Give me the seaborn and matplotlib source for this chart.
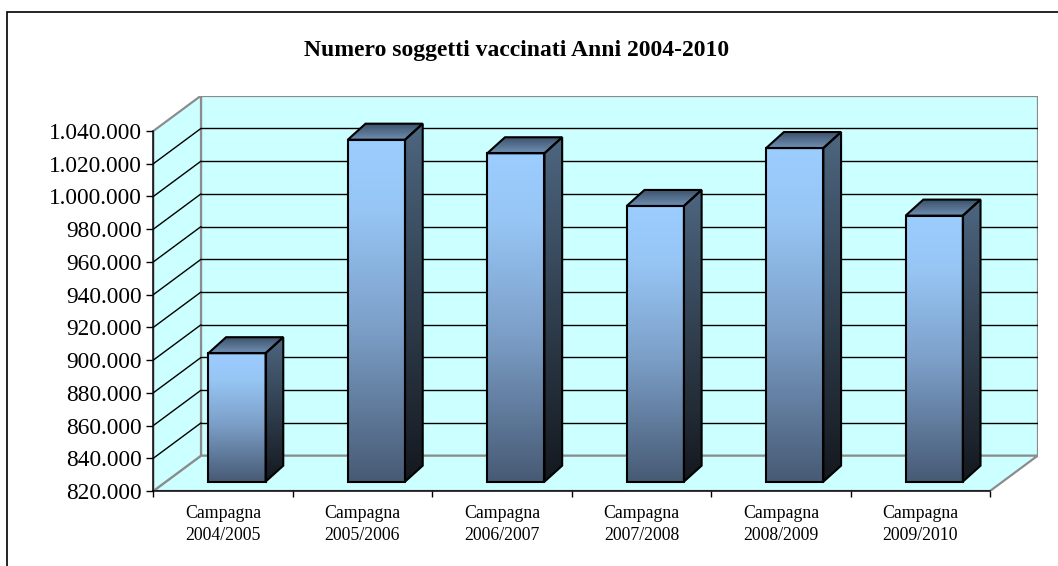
import numpy as np
import pandas as pd
import matplotlib
matplotlib.use("Agg")
import matplotlib.pyplot as plt
from matplotlib.patches import Polygon, Rectangle
from matplotlib.colors import LinearSegmentedColormap
from matplotlib.ticker import FuncFormatter, NullFormatter
import seaborn as sns

# ---- data -------------------------------------------------------------
campaigns = ["Campagna\n2004/2005", "Campagna\n2005/2006", "Campagna\n2006/2007",
             "Campagna\n2007/2008", "Campagna\n2008/2009", "Campagna\n2009/2010"]
vaccinated = [898500, 1029000, 1020700, 988500, 1023900, 982600]
title = "Numero soggetti vaccinati Anni 2004-2010"
y_min, y_max, y_step = 820000, 1040000, 20000

# ---- 3D box geometry (data units) ----------------------------------------
DEPTH_X, DEPTH_Y = 0.342, 21600          # depth of walls / floor
BAR_FRONT_X, BAR_FRONT_Y = 0.10, 5700    # front face of the columns inside the box
BAR_DEPTH_X, BAR_DEPTH_Y = 0.127, 9800   # thickness of the columns
BAR_WIDTH = 0.41

WALL = "#ccffff"
WALL_EDGE = "#8c8c8c"

front_cmap = LinearSegmentedColormap.from_list(
    "front", [(0.0, "#475a74"), (0.45, "#7c9fc8"), (0.8, "#97c6f5"), (1.0, "#9bcdff")])
side_cmap = LinearSegmentedColormap.from_list("side", ["#14181e", "#4d6680"])
top_cmap = LinearSegmentedColormap.from_list("top", ["#6f90b4", "#3a4e66"])
grad = np.linspace(0, 1, 256).reshape(-1, 1)

W, H, DPI = 1058, 566, 100
sns.set_style("white")
plt.rcParams["font.family"] = ["Liberation Serif", "DejaVu Serif"]

fig = plt.figure(figsize=(W / DPI, H / DPI), dpi=DPI)
fig.patch.set_facecolor("white")
left_px, right_px, bottom_px, top_px = 153.3, 1037.7, 491.0, 95.7
ax = fig.add_axes([left_px / W, 1 - bottom_px / H,
                   (right_px - left_px) / W, (bottom_px - top_px) / H])
ax.set_facecolor("none")

n = len(campaigns)
positions = np.arange(n)
df = pd.DataFrame({"pos": positions, "vaccinati": vaccinated})

sns.barplot(data=df, x="pos", y="vaccinati", width=BAR_WIDTH, color="#7c9fc8",
            edgecolor="black", linewidth=1.5, ax=ax, zorder=6)
bars = list(ax.patches)

x_lo, x_hi = -0.5, n - 0.5

# walls and floor
ax.add_patch(Rectangle((x_lo + DEPTH_X, y_min + DEPTH_Y), n, y_max - y_min,
                       facecolor=WALL, edgecolor=WALL_EDGE, lw=1.6, zorder=1))
ax.add_patch(Polygon([(x_lo, y_min), (x_lo, y_max), (x_lo + DEPTH_X, y_max + DEPTH_Y),
                      (x_lo + DEPTH_X, y_min + DEPTH_Y)],
                     facecolor=WALL, edgecolor=WALL_EDGE, lw=1.6, zorder=1.2))
ax.add_patch(Polygon([(x_lo, y_min), (x_hi, y_min), (x_hi + DEPTH_X, y_min + DEPTH_Y),
                      (x_lo + DEPTH_X, y_min + DEPTH_Y)],
                     facecolor=WALL, edgecolor=WALL_EDGE, lw=1.6, zorder=1.1))

# gridlines on back wall and side wall
for v in range(y_min + y_step, y_max, y_step):
    ax.plot([x_lo + DEPTH_X, x_hi + DEPTH_X], [v + DEPTH_Y] * 2, color="black", lw=1, zorder=2)
    ax.plot([x_lo, x_lo + DEPTH_X], [v, v + DEPTH_Y], color="black", lw=1, zorder=2)

# columns
for bar, val in zip(bars, vaccinated):
    x0 = bar.get_x() + BAR_FRONT_X
    w = bar.get_width()
    x1 = x0 + w
    base = y_min + BAR_FRONT_Y
    top = val + BAR_FRONT_Y
    bar.set_x(x0)
    bar.set_y(base)
    bar.set_height(val - y_min)
    bar.set_facecolor("none")

    im = ax.imshow(grad, extent=(x0, x1, base, top), origin="lower", aspect="auto",
                   cmap=front_cmap, zorder=5, interpolation="bilinear")
    im.set_clip_path(bar)

    side = Polygon([(x1, base), (x1, top), (x1 + BAR_DEPTH_X, top + BAR_DEPTH_Y),
                    (x1 + BAR_DEPTH_X, base + BAR_DEPTH_Y)],
                   facecolor="none", edgecolor="black", lw=1.5, zorder=6, joinstyle="miter")
    ax.add_patch(side)
    im = ax.imshow(grad, extent=(x1, x1 + BAR_DEPTH_X, base, top + BAR_DEPTH_Y), origin="lower",
                   aspect="auto", cmap=side_cmap, zorder=5, interpolation="bilinear")
    im.set_clip_path(side)

    cap = Polygon([(x0, top), (x1, top), (x1 + BAR_DEPTH_X, top + BAR_DEPTH_Y),
                   (x0 + BAR_DEPTH_X, top + BAR_DEPTH_Y)],
                  facecolor="none", edgecolor="black", lw=1.5, zorder=6, joinstyle="miter")
    ax.add_patch(cap)
    im = ax.imshow(grad, extent=(x0, x1 + BAR_DEPTH_X, top, top + BAR_DEPTH_Y), origin="lower",
                   aspect="auto", cmap=top_cmap, zorder=5, interpolation="bilinear")
    im.set_clip_path(cap)

ax.set_xlim(x_lo, x_hi + DEPTH_X)
ax.set_ylim(y_min, y_max + DEPTH_Y)
ax.set_xlabel("")
ax.set_ylabel("")

# axes lines on the front edges
for s in ("top", "right"):
    ax.spines[s].set_visible(False)
for s in ("left", "bottom"):
    ax.spines[s].set_color("black")
    ax.spines[s].set_linewidth(1.1)
    ax.spines[s].set_zorder(3)
ax.spines["left"].set_bounds(y_min, y_max)
ax.spines["bottom"].set_bounds(x_lo, x_hi)

ax.set_yticks(range(y_min, y_max + 1, y_step))
ax.yaxis.set_major_formatter(FuncFormatter(lambda v, _: f"{int(round(v)):,}".replace(",", ".")))
ax.tick_params(axis="y", left=True, direction="out", length=5, width=1, pad=3,
               labelsize=16.8, colors="black")

ax.set_xticks(np.arange(x_lo, x_hi + 0.01, 1.0))
ax.xaxis.set_major_formatter(NullFormatter())
ax.set_xticks(positions, labels=campaigns, minor=True)
ax.tick_params(axis="x", which="major", bottom=True, direction="out", length=4.3, width=1,
               colors="black")
ax.tick_params(axis="x", which="minor", bottom=True, length=0, pad=10, labelsize=12.8,
               labelcolor="black")
for lab in ax.get_xticklabels(minor=True):
    lab.set_linespacing(1.42)

fig.text(516.5 / W, 1 - 56 / H, title, ha="center", va="baseline",
         fontsize=17, fontweight="bold", color="black")

# outer chart frame
fig.add_artist(Rectangle((7 / W, -0.2), 2.0, 1.2 - 11.7 / H, transform=fig.transFigure,
                         fill=False, edgecolor="black", lw=1.2))

fig.savefig("out.png", dpi=DPI, facecolor="white")
